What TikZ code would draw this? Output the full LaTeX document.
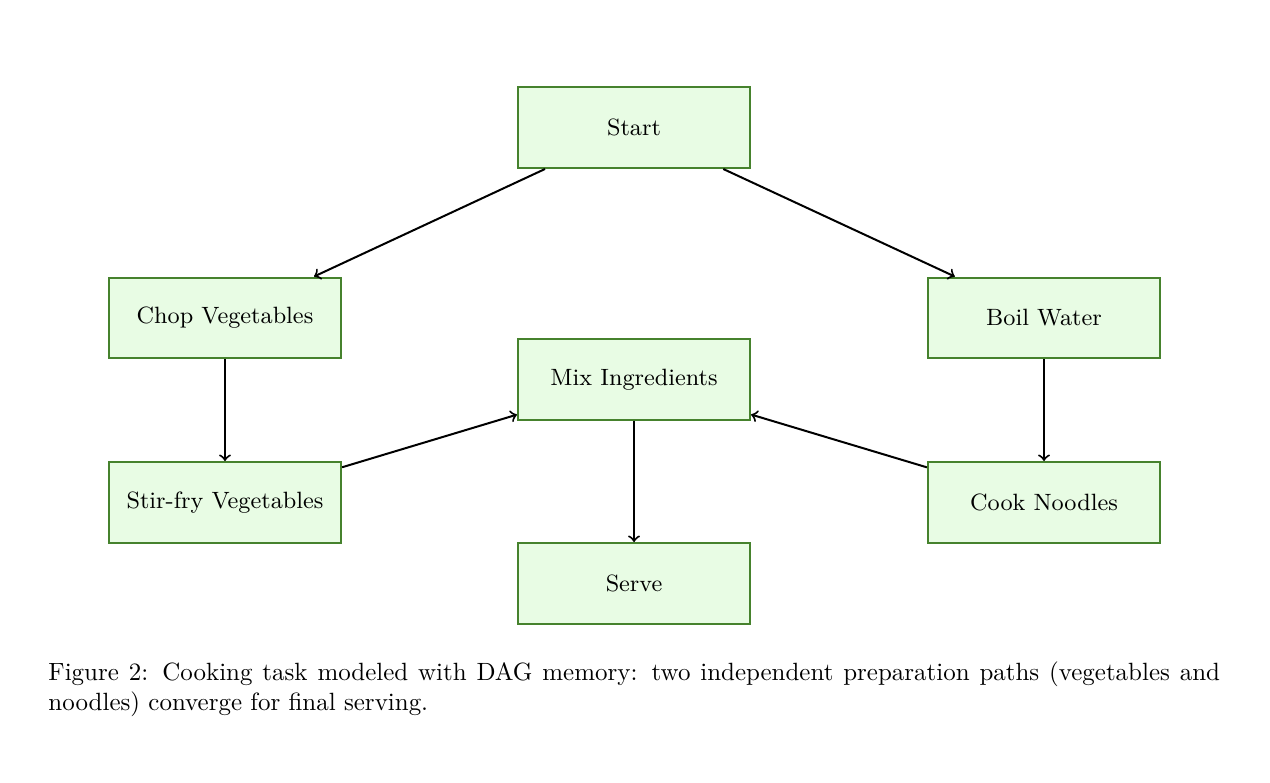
\documentclass[tikz,border=0pt]{standalone}
\definecolor{taskline}{RGB}{70,130,45}
\definecolor{taskfill}{RGB}{232,252,228}
\tikzset{
	task/.style={draw=taskline, fill=taskfill, thick, minimum width=3.27cm, minimum height=1.14cm, inner sep=2pt, font=\fontsize{9.45}{11}\selectfont},
	flow/.style={->, thick}
}
\begin{document}
\begin{tikzpicture}

	\useasboundingbox (0,0) rectangle (17.887,-11.014);

	\node[task] (start) at (8.93,-1.796) {Start};
	\node[task] (chop) at (3.169,-4.479) {Chop Vegetables};
	\node[task] (boil) at (14.704,-4.479) {Boil Water};
	\node[task] (mix) at (8.93,-5.345) {Mix Ingredients};
	\node[task] (stir) at (3.169,-7.077) {Stir-fry Vegetables};
	\node[task] (cook) at (14.704,-7.077) {Cook Noodles};
	\node[task] (serve) at (8.93,-8.218) {Serve};

	\foreach \i / \j in {
	start/chop,
	start/boil,
	chop/stir,
	boil/cook,
	stir/mix,
	cook/mix,
	mix/serve}
	{
		\path[flow] (\i) edge (\j);
	};

	\node[anchor=north west, inner sep=0pt, text width=16.5cm, align=justify] (caption) at (0.676,-9.31)
	{Figure 2: Cooking task modeled with DAG memory: two independent preparation paths (vegetables and noodles) converge for final serving.};
	\end{tikzpicture}
\end{document}
